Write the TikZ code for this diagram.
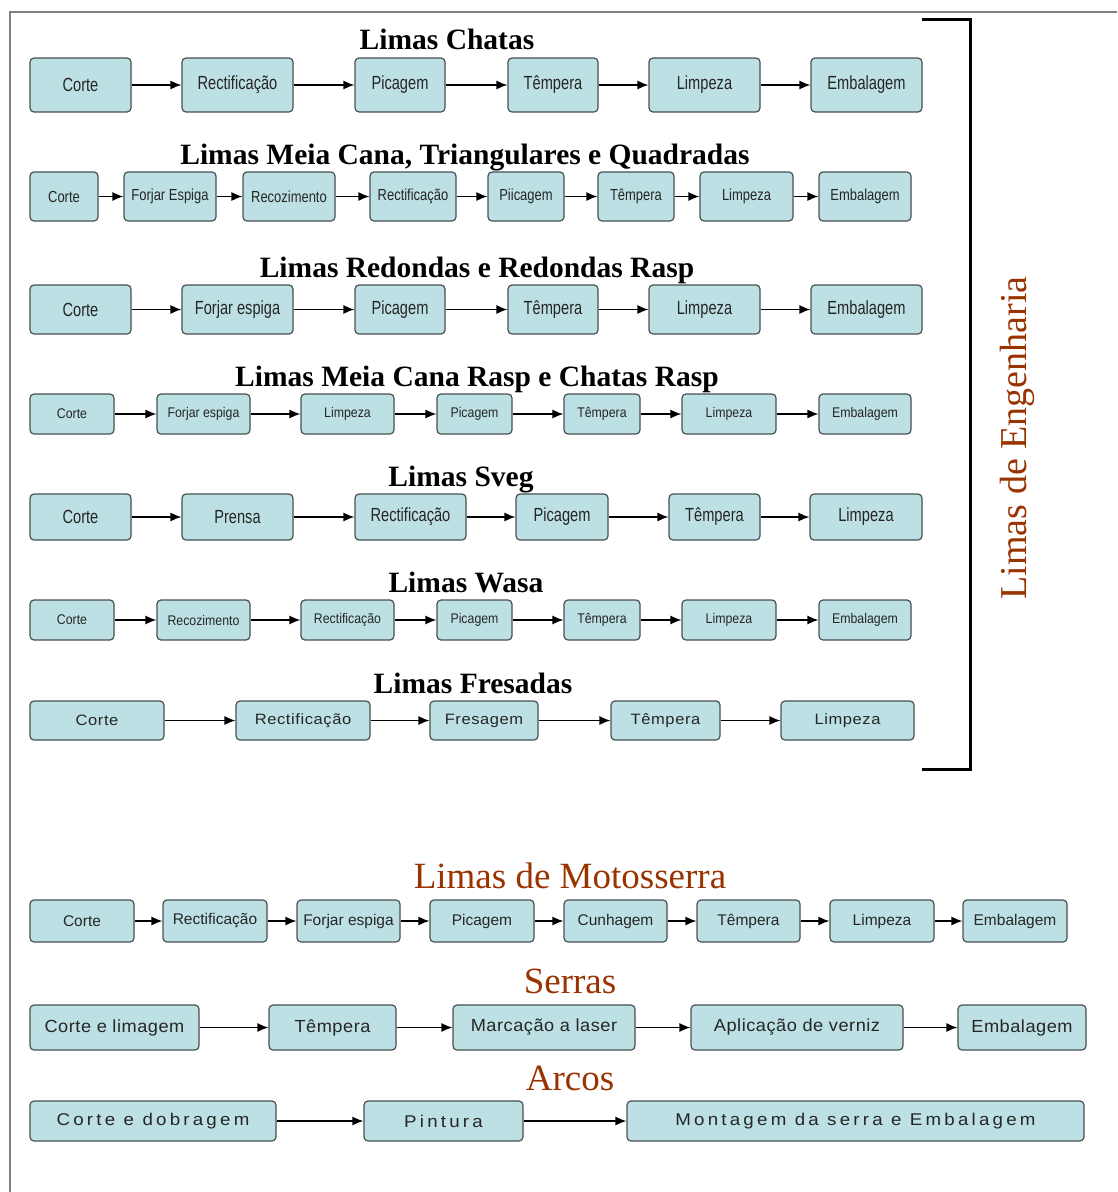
\documentclass[tikz,border=0pt]{standalone}
\usepackage{fontspec}
\setmainfont{Liberation Serif}
\newfontfamily\nfA[FakeStretch=0.77]{Liberation Sans}
\newfontfamily\nfB[FakeStretch=0.81]{Liberation Sans}
\newfontfamily\nfC[FakeStretch=0.88]{Liberation Sans}
\newfontfamily\afR[FakeStretch=1.1,LetterSpace=4]{Liberation Sans}
\newfontfamily\afM{Liberation Sans}
\newfontfamily\afS[FakeStretch=1.04,LetterSpace=3]{Liberation Sans}
\newfontfamily\afA[FakeStretch=1.1,LetterSpace=19]{Liberation Sans}
\usetikzlibrary{arrows.meta}
\definecolor{boxfill}{HTML}{BCE0E3}
\definecolor{boxline}{HTML}{485050}
\definecolor{brownt}{HTML}{993300}
\definecolor{frameg}{HTML}{808080}
\tikzset{
  x=1pt, y=-1pt,
  box/.style={draw=boxline, fill=boxfill, rounded corners=4pt, line width=1.2pt, inner sep=0pt, text=black!85},
  arr/.style={-{Latex[length=11pt,width=9pt]}, line width=1.3pt, black},
  rowA/.style={font=\nfA\fontsize{19}{22}\selectfont},
  rowB/.style={font=\nfB\fontsize{16}{19}\selectfont},
  rowC/.style={font=\nfC\fontsize{14}{17}\selectfont},
  rowR/.style={font=\afR\fontsize{15}{18}\selectfont},
  rowM/.style={font=\afM\fontsize{15.5}{18}\selectfont},
  rowS/.style={font=\afS\fontsize{17.5}{20}\selectfont},
  rowT/.style={font=\afA\fontsize{17}{20}\selectfont},
  ttl/.style={anchor=base, font=\bfseries\fontsize{29.5}{33}\selectfont},
  bttl/.style={anchor=base, text=brownt, font=\fontsize{37}{41}\selectfont},
}
\newcommand\mybox[7][]{\node[box,#1,minimum width={(#4-#3)*1pt},minimum height={(#6-#5)*1pt}] (#2) at ({(#3+#4)/2},{(#5+#6)/2}) {#7};}
\begin{document}
\begin{tikzpicture}
\useasboundingbox (0,0) rectangle (1117,1192);
\draw[frameg, line width=1.5pt] (10,1192) -- (10,12) -- (1117,12);
% bracket
\draw[line width=3pt] (922,19) -- (970,19) -- (970,769) -- (922,769);
\node[rotate=90, text=brownt, font=\fontsize{38}{42}\selectfont] (eng) at (1017,438) {Limas de Engenharia};

% Row 1
\node[ttl] (t1) at (447,49) {Limas Chatas};
\mybox[rowA]{a1}{30}{131}{58}{112}{Corte}
\mybox[rowA]{a2}{182}{293}{58}{112}{Rectificação}
\mybox[rowA]{a3}{355}{445}{58}{112}{Picagem}
\mybox[rowA]{a4}{508}{598}{58}{112}{Têmpera}
\mybox[rowA]{a5}{649}{760}{58}{112}{Limpeza}
\mybox[rowA]{a6}{811}{922}{58}{112}{Embalagem}
\draw[arr] (a1) -- (a2); \draw[arr] (a2) -- (a3); \draw[arr] (a3) -- (a4);
\draw[arr] (a4) -- (a5); \draw[arr] (a5) -- (a6);

% Row 2
\node[ttl] (t2) at (465,164) {Limas Meia Cana, Triangulares e Quadradas};
\mybox[rowB]{b1}{30}{98}{172}{221}{Corte}
\mybox[rowB]{b2}{124}{216}{172}{221}{Forjar Espiga}
\mybox[rowB]{b3}{243}{335}{172}{221}{Recozimento}
\mybox[rowB]{b4}{370}{456}{172}{221}{Rectificação}
\mybox[rowB]{b5}{488}{564}{172}{221}{Piicagem}
\mybox[rowB]{b6}{598}{674}{172}{221}{Têmpera}
\mybox[rowB]{b7}{700}{793}{172}{221}{Limpeza}
\mybox[rowB]{b8}{819}{911}{172}{221}{Embalagem}
\draw[arr] (b1) -- (b2); \draw[arr] (b2) -- (b3); \draw[arr] (b3) -- (b4);
\draw[arr] (b4) -- (b5); \draw[arr] (b5) -- (b6); \draw[arr] (b6) -- (b7);
\draw[arr] (b7) -- (b8);

% Row 3
\node[ttl] (t3) at (477,277) {Limas Redondas e Redondas Rasp};
\mybox[rowA]{c1}{30}{131}{285}{334}{Corte}
\mybox[rowA]{c2}{182}{293}{285}{334}{Forjar espiga}
\mybox[rowA]{c3}{355}{445}{285}{334}{Picagem}
\mybox[rowA]{c4}{508}{598}{285}{334}{Têmpera}
\mybox[rowA]{c5}{649}{760}{285}{334}{Limpeza}
\mybox[rowA]{c6}{811}{922}{285}{334}{Embalagem}
\draw[arr] (c1) -- (c2); \draw[arr] (c2) -- (c3); \draw[arr] (c3) -- (c4);
\draw[arr] (c4) -- (c5); \draw[arr] (c5) -- (c6);

% Row 4
\node[ttl] (t4) at (477,386) {Limas Meia Cana Rasp e Chatas Rasp};
\mybox[rowC]{d1}{30}{114}{394}{434}{Corte}
\mybox[rowC]{d2}{157}{250}{394}{434}{Forjar espiga}
\mybox[rowC]{d3}{301}{394}{394}{434}{Limpeza}
\mybox[rowC]{d4}{437}{512}{394}{434}{Picagem}
\mybox[rowC]{d5}{564}{640}{394}{434}{Têmpera}
\mybox[rowC]{d6}{682}{776}{394}{434}{Limpeza}
\mybox[rowC]{d7}{819}{911}{394}{434}{Embalagem}
\draw[arr] (d1) -- (d2); \draw[arr] (d2) -- (d3); \draw[arr] (d3) -- (d4);
\draw[arr] (d4) -- (d5); \draw[arr] (d5) -- (d6); \draw[arr] (d6) -- (d7);

% Row 5
\node[ttl] (t5) at (461,486) {Limas Sveg};
\mybox[rowA]{e1}{30}{131}{494}{540}{Corte}
\mybox[rowA]{e2}{182}{293}{494}{540}{Prensa}
\mybox[rowA]{e3}{355}{466}{494}{540}{Rectificação}
\mybox[rowA]{e4}{516}{608}{494}{540}{Picagem}
\mybox[rowA]{e5}{669}{760}{494}{540}{Têmpera}
\mybox[rowA]{e6}{810}{922}{494}{540}{Limpeza}
\draw[arr] (e1) -- (e2); \draw[arr] (e2) -- (e3); \draw[arr] (e3) -- (e4);
\draw[arr] (e4) -- (e5); \draw[arr] (e5) -- (e6);

% Row 6
\node[ttl] (t6) at (466,592) {Limas Wasa};
\mybox[rowC]{f1}{30}{114}{600}{640}{Corte}
\mybox[rowC]{f2}{157}{250}{600}{640}{Recozimento}
\mybox[rowC]{f3}{301}{394}{600}{640}{Rectificação}
\mybox[rowC]{f4}{437}{512}{600}{640}{Picagem}
\mybox[rowC]{f5}{564}{640}{600}{640}{Têmpera}
\mybox[rowC]{f6}{682}{776}{600}{640}{Limpeza}
\mybox[rowC]{f7}{819}{911}{600}{640}{Embalagem}
\draw[arr] (f1) -- (f2); \draw[arr] (f2) -- (f3); \draw[arr] (f3) -- (f4);
\draw[arr] (f4) -- (f5); \draw[arr] (f5) -- (f6); \draw[arr] (f6) -- (f7);

% Row 7
\node[ttl] (t7) at (473,693) {Limas Fresadas};
\mybox[rowR]{g1}{30}{164}{701}{740}{Corte}
\mybox[rowR]{g2}{236}{370}{701}{740}{Rectificação}
\mybox[rowR]{g3}{430}{538}{701}{740}{Fresagem}
\mybox[rowR]{g4}{611}{720}{701}{740}{Têmpera}
\mybox[rowR]{g5}{781}{914}{701}{740}{Limpeza}
\draw[arr] (g1) -- (g2); \draw[arr] (g2) -- (g3); \draw[arr] (g3) -- (g4);
\draw[arr] (g4) -- (g5);

% Motosserra
\node[bttl] (t8) at (570,888) {Limas de Motosserra};
\mybox[rowM]{h1}{30}{134}{900}{942}{Corte}
\mybox[rowM]{h2}{163}{267}{900}{942}{Rectificação}
\mybox[rowM]{h3}{297}{400}{900}{942}{Forjar espiga}
\mybox[rowM]{h4}{430}{534}{900}{942}{Picagem}
\mybox[rowM]{h5}{564}{667}{900}{942}{Cunhagem}
\mybox[rowM]{h6}{697}{800}{900}{942}{Têmpera}
\mybox[rowM]{h7}{830}{934}{900}{942}{Limpeza}
\mybox[rowM]{h8}{963}{1067}{900}{942}{Embalagem}
\draw[arr] (h1) -- (h2); \draw[arr] (h2) -- (h3); \draw[arr] (h3) -- (h4);
\draw[arr] (h4) -- (h5); \draw[arr] (h5) -- (h6); \draw[arr] (h6) -- (h7);
\draw[arr] (h7) -- (h8);

% Serras
\node[bttl] (t9) at (570,993) {Serras};
\mybox[rowS]{i1}{30}{199}{1005}{1050}{Corte e limagem}
\mybox[rowS]{i2}{269}{396}{1005}{1050}{Têmpera}
\mybox[rowS]{i3}{453}{635}{1005}{1050}{Marcação a laser}
\mybox[rowS]{i4}{691}{903}{1005}{1050}{Aplicação de verniz}
\mybox[rowS]{i5}{958}{1086}{1005}{1050}{Embalagem}
\draw[arr] (i1) -- (i2); \draw[arr] (i2) -- (i3); \draw[arr] (i3) -- (i4);
\draw[arr] (i4) -- (i5);

% Arcos
\node[bttl] (t10) at (570,1090) {Arcos};
\mybox[rowT]{j1}{30}{276}{1101}{1141}{Corte e dobragem}
\mybox[rowT]{j2}{364}{523}{1101}{1141}{Pintura}
\mybox[rowT]{j3}{627}{1084}{1101}{1141}{Montagem da serra e Embalagem}
\draw[arr] (j1) -- (j2); \draw[arr] (j2) -- (j3);
\end{tikzpicture}
\end{document}
